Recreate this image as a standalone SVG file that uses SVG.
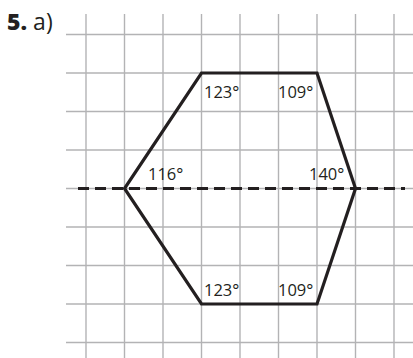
<svg xmlns="http://www.w3.org/2000/svg" width="413" height="358" viewBox="0 0 413 358">
<style>
.grid line{stroke:#b3b3b5;stroke-width:1.4}
.shape{fill:none;stroke:#231f20;stroke-width:3.2;stroke-linejoin:miter}
.axis{stroke:#231f20;stroke-width:3.2;stroke-dasharray:11 6}
.lbl{font-family:"Open Sans","Liberation Sans",sans-serif;font-size:16.5px;fill:#231f20}
.title{font-family:"Open Sans","Liberation Sans",sans-serif;font-size:23px;fill:#231f20}
</style>
<rect width="413" height="358" fill="#ffffff"/>
<g id="title"><text class="title" x="7" y="30"><tspan font-weight="800">5.</tspan> a)</text></g>
<g id="grid" class="grid">
<line x1="86" y1="14" x2="86" y2="358"/>
<line x1="124.5" y1="14" x2="124.5" y2="358"/>
<line x1="163" y1="14" x2="163" y2="358"/>
<line x1="201.5" y1="14" x2="201.5" y2="358"/>
<line x1="240" y1="14" x2="240" y2="358"/>
<line x1="278.5" y1="14" x2="278.5" y2="358"/>
<line x1="317" y1="14" x2="317" y2="358"/>
<line x1="355.5" y1="14" x2="355.5" y2="358"/>
<line x1="394" y1="14" x2="394" y2="358"/>
<line x1="66" y1="34.5" x2="413" y2="34.5"/>
<line x1="66" y1="73" x2="413" y2="73"/>
<line x1="66" y1="111.5" x2="413" y2="111.5"/>
<line x1="66" y1="150" x2="413" y2="150"/>
<line x1="66" y1="188.5" x2="413" y2="188.5"/>
<line x1="66" y1="227" x2="413" y2="227"/>
<line x1="66" y1="265.5" x2="413" y2="265.5"/>
<line x1="66" y1="304" x2="413" y2="304"/>
<line x1="66" y1="342.5" x2="413" y2="342.5"/>
</g>
<g id="axis"><line class="axis" x1="78" y1="188.5" x2="405" y2="188.5"/></g>
<g id="hexagon">
<polygon class="shape" points="201.5,73 317,73 355.5,188.5 317,304 201.5,304 124.5,188.5"/>
</g>
<g id="labels">
<text class="lbl" x="204" y="98">123°</text>
<text class="lbl" x="278" y="98">109°</text>
<text class="lbl" x="148" y="180">116°</text>
<text class="lbl" x="309" y="180">140°</text>
<text class="lbl" x="204" y="296">123°</text>
<text class="lbl" x="278" y="296">109°</text>
</g>
</svg>
